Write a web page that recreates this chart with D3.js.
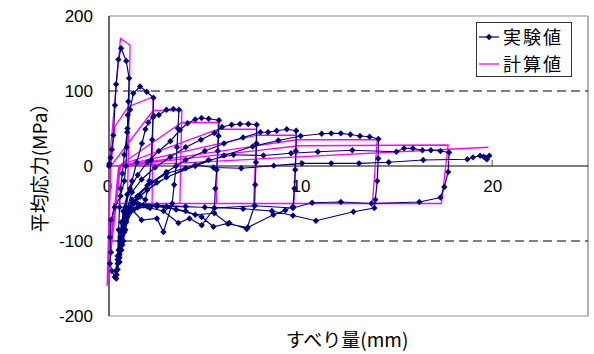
<!DOCTYPE html>
<html><head><meta charset="utf-8">
<script src="https://cdn.jsdelivr.net/npm/d3@7"></script>
<style>
html,body{margin:0;padding:0;background:#fff;}
svg{display:block;}
</style>
</head><body>
<svg id="chart" width="594" height="354"></svg>
<script>
// ---- data ----
const yTicks = [-200, -100, 0, 100, 200];
const xTicks = [0, 10, 20];
const gridValues = [-100, 100];
const seriesNames = ["実験値", "計算値"];
const xTitle = "すべり量(mm)";
const yTitle = "平均応力(MPa）";

// experimental (slip mm, stress MPa)
const expSlip = [
0,0.02,0.08,0.15,0.23,0.31,0.37,0.49,0.63,0.9,1.05,1.01,0.98,0.96,0.93,0.88,0.8,0.6,0.3,0.1,0.05,0.1,0.05,0.15,0.3,0.38,
0.45,0.5,0.55,0.6,0.7,0.8,0.95,1.1,1.27,1.62,1.97,2.32,2.3,2.25,2.2,2.1,1.9,1.62,1.3,0.9,0.65,0.55,0.45,0.35,
0.5,0.6,0.75,0.95,1.2,1.45,1.72,1.9,2.05,2.33,2.6,3.0,3.36,3.65,3.6,3.55,3.5,3.4,3.3,2.84,2.5,1.7,1.2,0.8,0.6,0.45,0.4,
0.55,0.7,0.85,1.1,1.5,2.0,2.6,3.2,3.7,4.1,4.5,4.83,5.2,5.74,5.72,5.68,5.62,5.55,5.5,4.84,4.2,3.62,2.84,2.14,1.5,1.0,0.7,0.55,0.45,
0.65,0.85,1.2,1.7,2.4,3.2,4.0,4.8,5.5,5.9,6.4,6.84,7.27,7.71,7.7,7.67,7.63,7.6,7.19,6.28,5.45,4.84,4.0,3.0,2.0,1.3,0.9,0.7,0.55,
0.8,1.0,1.5,2.2,3.0,4.0,5.0,6.0,7.0,7.9,8.3,8.75,9.28,9.77,9.75,9.72,9.68,9.6,9.2,8.58,7.24,6.2,5.5,4.5,3.5,2.5,1.6,1.1,0.8,0.65,
0.9,1.2,2.0,3.0,4.5,6.0,7.5,8.84,10.0,11.1,11.6,12.1,12.6,13.1,13.6,14.06,14.05,14.0,13.9,13.85,12.76,10.8,9.6,8.5,7.0,5.0,3.0,1.8,1.1,0.85,0.75,
1.0,1.5,2.5,4.0,5.2,6.5,8.06,9.5,10.9,12.7,15.0,15.4,15.86,16.36,16.8,17.3,17.75,17.7,17.5,17.3,16.2,13.7,12.1,10.6,9.6,7.6,5.5,4.0,2.5,1.5,1.1,0.9,
1.2,2.0,3.0,4.5,5.45,6.9,8.6,10.08,11.6,13.05,14.6,16.4,18.7,19.0,19.37,19.55,19.72,19.65,19.85
];
const expStress = [
0,3,11,22,41,81,109,142,157,140,117,86,68,50,25,0,-20,-40,-55,-72,-95,-115,-130,-140,-148,-150,
-120,-85,-55,-30,-10,15,45,75,97,106,99,91,65,35,8,-20,-45,-41,-50,-55,-75,-100,-125,-140,
-112,-88,-60,-38,-20,5,30,49,58,67,68,75,76,75,50,25,0,-25,-50,-88,-70,-72,-58,-62,-95,-130,-145,
-118,-85,-55,-30,-12,5,20,33,48,57,62,64,63,61,40,20,-5,-30,-56,-79,-70,-76,-60,-56,-55,-62,-92,-122,-138,
-100,-65,-35,-18,-2,12,25,35,44,52,55,56,56,55,30,5,-25,-53,-84,-76,-81,-68,-60,-55,-54,-58,-75,-105,-128,
-85,-58,-40,-22,-8,8,20,30,38,45,45,47,49,47,20,-5,-30,-54,-59,-65,-82,-77,-63,-65,-58,-54,-52,-60,-88,-112,
-72,-50,-32,-15,0,14,26,34,40,43,43.6,43.6,42,40,39,36,10,-20,-45,-56,-61,-73,-66,-60,-57,-55,-54,-52,-58,-85,-100,
-62,-42,-22,-3,8,15,14,17,19,21,19,23.6,23.6,21,21,20,18,-8,-28,-42,-48,-50,-48,-49,-56,-53,-56,-54,-52,-50,-55,-68,
-45,-26,-10,1.3,-2,-3,0.4,3.6,3.6,3.6,5,8,9,11.6,13.8,12.4,9,11,13.8
];

// calculated (slip mm, stress MPa)
const calcSlip = [
0,0.6,1.1,1.0,0.95,0.25,-0.1,
0.05,0.1,0.3,1.0,2.3,2.25,0.25,-0.08,
0.1,2.3,3.8,3.7,0.25,-0.07,
0.5,3.8,5.7,5.6,0.25,-0.06,
0.5,5.7,7.7,7.55,0.25,-0.05,
0.55,7.7,9.8,9.65,0.25,-0.05,
0.55,9.8,14.0,13.75,0.25,-0.05,
0.55,9.9,17.7,17.35,0.25,-0.05,
0.6,19.8
];
const calcStress = [
0,170,161,0,-50,-50,-160,
-20,0,52,79,92,-50,-50,-156,
0,74,74,-50,-50,-154,
0,58,58,-50,-50,-152,
0,49,49,-50,-50,-150,
0,41,41,-50,-50,-150,
0,35,35,-50,-50,-150,
0,27,28,-50,-50,-148,
0,25
];

// ---- layout ----
const svg = d3.select("#chart");
const L = 109, R = 588, T = 16, B = 316;
const x = d3.scaleLinear().domain([0, 25]).range([L, R]);
const y = d3.scaleLinear().domain([-200, 200]).range([B, T]);
const numFont = "'Liberation Sans', Arial, sans-serif";
const jpFont = "'Noto Sans CJK JP', sans-serif";

// frame
svg.append("line").attr("x1", L).attr("x2", R).attr("y1", T).attr("y2", T)
  .attr("stroke", "#b4b4b4").attr("stroke-width", 1.5);
svg.append("line").attr("x1", L).attr("x2", R).attr("y1", B).attr("y2", B)
  .attr("stroke", "#b4b4b4").attr("stroke-width", 1.5);
svg.append("line").attr("x1", R).attr("x2", R).attr("y1", T).attr("y2", B)
  .attr("stroke", "#9a9a9a").attr("stroke-width", 1.5);

// gridlines
svg.selectAll("line.grid").data(gridValues).enter().append("line")
  .attr("class", "grid")
  .attr("x1", L).attr("x2", R)
  .attr("y1", d => y(d)).attr("y2", d => y(d))
  .attr("stroke", "#000").attr("stroke-width", 1)
  .attr("stroke-dasharray", "9,5");

// x tick marks (inside, upward)
svg.selectAll("line.xt").data(xTicks.filter(d => d > 0)).enter().append("line")
  .attr("class", "xt")
  .attr("x1", d => x(d)).attr("x2", d => x(d))
  .attr("y1", y(0) - 6).attr("y2", y(0))
  .attr("stroke", "#888").attr("stroke-width", 1.5);

// y axis
const yAxis = d3.axisLeft(y).tickValues(yTicks).tickSize(0).tickPadding(16)
  .tickFormat(d => String(d));
const gy = svg.append("g").attr("transform", `translate(${L},0)`).call(yAxis);
gy.select(".domain").remove();
gy.selectAll("text").attr("font-family", numFont).attr("font-size", 17).attr("fill", "#000");

// x axis labels
const xAxis = d3.axisBottom(x).tickValues(xTicks).tickSize(0).tickPadding(14)
  .tickFormat(d => String(d));
const gx = svg.append("g").attr("transform", `translate(0,${y(0)})`).call(xAxis);
gx.select(".domain").remove();
gx.selectAll("text").attr("font-family", numFont).attr("font-size", 17).attr("fill", "#000");
gx.selectAll(".tick").filter(d => d === 0).select("text").attr("dx", -2);

// axis lines
svg.append("line").attr("x1", L).attr("x2", R).attr("y1", y(0)).attr("y2", y(0))
  .attr("stroke", "#000").attr("stroke-width", 1.2);
svg.append("line").attr("x1", L).attr("x2", L).attr("y1", T).attr("y2", B)
  .attr("stroke", "#000").attr("stroke-width", 1.2);

// series
const calcPts = calcSlip.map((v, i) => [v, calcStress[i]]);
const expPts = expSlip.map((v, i) => [v, expStress[i]]);
const line = d3.line().x(d => x(d[0])).y(d => y(d[1]));

svg.append("path").datum(calcPts).attr("d", line)
  .attr("fill", "none").attr("stroke", "#ff00ff").attr("stroke-width", 1.3);

svg.append("path").datum(expPts).attr("d", line)
  .attr("fill", "none").attr("stroke", "#000080").attr("stroke-width", 1.2);

const diamond = d3.symbol().type(d3.symbolSquare).size(20);
svg.selectAll("path.mk").data(expPts).enter().append("path")
  .attr("class", "mk")
  .attr("d", diamond)
  .attr("transform", d => `translate(${x(d[0])},${y(d[1])}) rotate(45)`)
  .attr("fill", "#000080");

// legend
const lgRowY = [37, 64];
const lg = svg.append("g");
lg.append("rect").attr("x", 476.5).attr("y", 22.5).attr("width", 95).attr("height", 54)
  .attr("fill", "#fff").attr("stroke", "#333").attr("stroke-width", 1);
lg.append("line").attr("x1", 479).attr("x2", 499).attr("y1", lgRowY[0]).attr("y2", lgRowY[0])
  .attr("stroke", "#000080").attr("stroke-width", 1.2);
lg.append("path").attr("d", diamond).attr("transform", `translate(489,${lgRowY[0]}) rotate(45)`).attr("fill", "#000080");
lg.append("line").attr("x1", 479).attr("x2", 499).attr("y1", lgRowY[1]).attr("y2", lgRowY[1])
  .attr("stroke", "#ff00ff").attr("stroke-width", 1.3);
lg.selectAll("text").data(seriesNames).enter().append("text")
  .attr("x", 503).attr("y", (d, i) => lgRowY[i] + 6.5)
  .attr("font-family", jpFont).attr("font-size", 18).attr("letter-spacing", 2)
  .attr("fill", "#000")
  .text(d => d);

// axis titles
svg.append("text").attr("x", 347).attr("y", 347).attr("text-anchor", "middle")
  .attr("font-family", jpFont).attr("font-size", 19).attr("fill", "#000").text(xTitle);
svg.append("text").attr("transform", "translate(47,163) rotate(-90)").attr("text-anchor", "middle")
  .attr("font-family", jpFont).attr("font-size", 19).attr("fill", "#000").text(yTitle);
</script>
</body></html>
